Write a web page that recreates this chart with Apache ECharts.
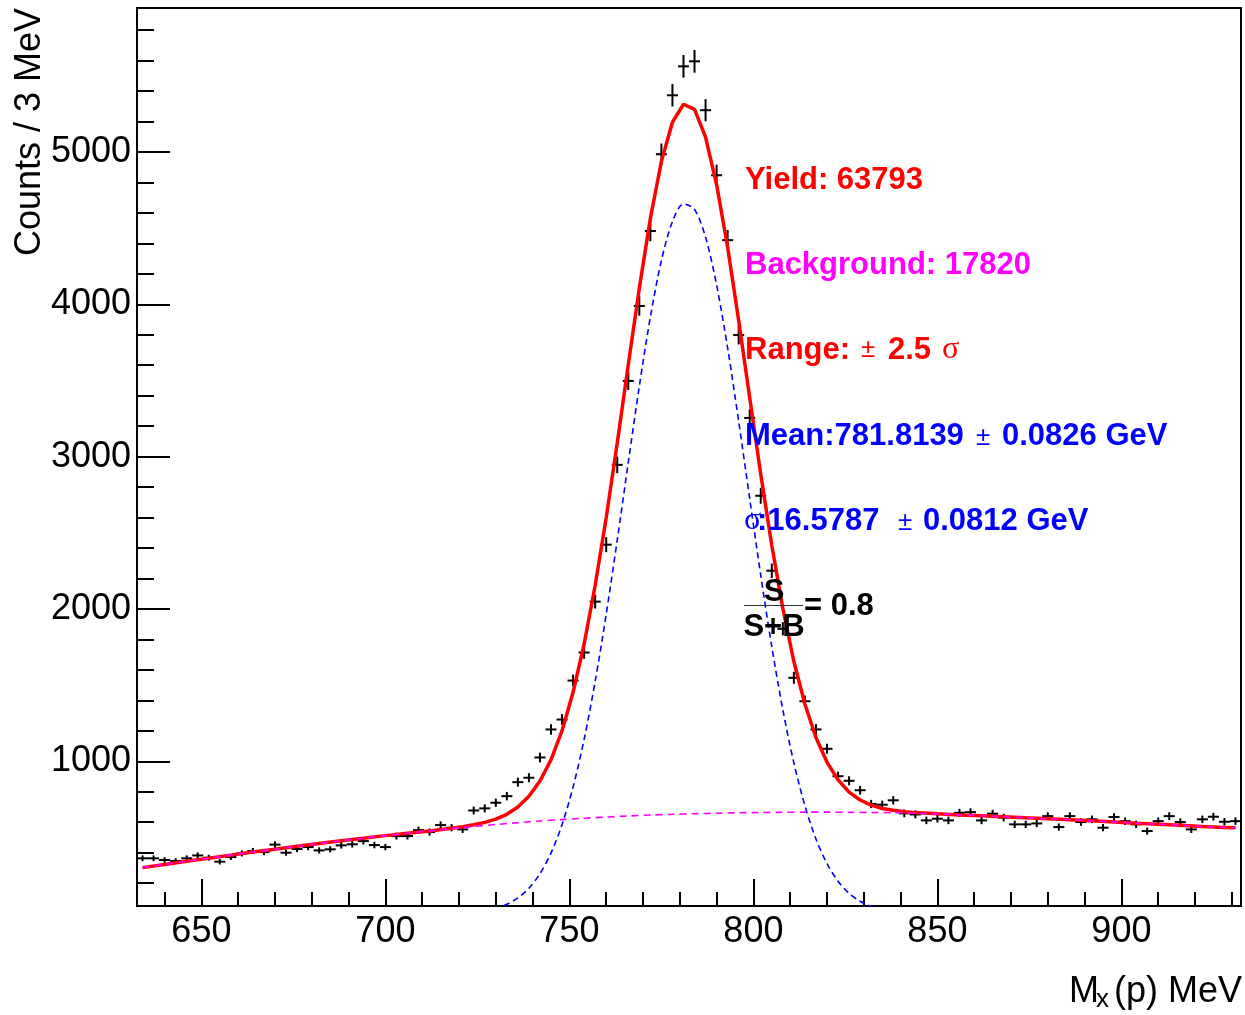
<!DOCTYPE html>
<html><head><meta charset="utf-8">
<script src="https://cdn.jsdelivr.net/npm/echarts@6/dist/echarts.min.js"></script>
<style>html,body{margin:0;padding:0;background:#fff}#c{width:1245px;height:1015px}</style>
</head><body><div id="c"></div>
<script>
// Histogram bin centres (3 MeV bins) and counts
const binCenters = [634,637,640,643,646,649,652,655,658,661,664,667,670,673,676,679,682,685,688,691,
  694,697,700,703,706,709,712,715,718,721,724,727,730,733,736,739,742,745,748,751,
  754,757,760,763,766,769,772,775,778,781,784,787,790,793,796,799,802,805,808,811,
  814,817,820,823,826,829,832,835,838,841,844,847,850,853,856,859,862,865,868,871,
  874,877,880,883,886,889,892,895,898,901,904,907,910,913,916,919,922,925,928,931];
const counts = [363,363,352,345,363,382,367,341,371,395,411,404,453,400,424,437,415,422,448,455,
  476,450,437,509,509,548,535,581,564,553,677,691,728,771,863,892,1025,1209,1274,1530,
  1714,2048,2422,2946,3497,3989,4481,4985,5372,5562,5595,5274,4847,4421,3798,3254,2743,2251,1870,1548,
  1394,1209,1082,902,872,810,720,715,744,658,651,612,623,612,662,666,612,656,630,586,
  586,592,640,568,640,601,619,564,634,607,586,542,607,640,601,553,619,636,603,607];

// Total fit (red)
const fitX = [634,640,646,652,658,664,670,676,682,688,694,700,706,712,718,
  721,724,727,730,733,736,739,742,745,748,751,754,757,760,763,766,769,772,775,778,781,784,787,790,793,796,799,802,805,808,811,814,817,820,823,826,829,832,835,838,841,844,
  850,856,862,868,874,880,886,892,898,904,910,916,922,928,931];
const fitY = [302,323,344,364,384,404,423,442,460,478,495,512,528,543,560,
  570,583,599,620,652,700,770,870,1010,1201,1453,1770,2154,2599,3090,3603,4106,4563,4938,5195,5313,5279,5098,4786,4374,3894,3386,2884,2417,2003,1655,1374,1156,994,879,798,746,712,690,678,669,663,
  655,648,642,636,629,623,616,609,602,594,587,580,572,566,563];

// Signal Gaussian (blue dashed)
const sigX = [727,730,733,736,739,742,745,748,751,754,757,760,763,766,769,772,775,778,781,784,787,790,793,796,799,802,805,808,811,814,817,820,823,826,829,832,835];
const sigY = [20,35,61,103,167,262,397,584,831,1144,1524,1965,2452,2962,3462,3916,4288,4543,4659,4623,4440,4127,3713,3232,2723,2220,1752,1338,989,708,490,328,213,133,81,48,27];

// Background (magenta dashed)
const bkgX = [634,640,646,652,658,664,670,676,682,688,694,700,706,712,718,724,730,736,742,748,754,760,766,772,778,784,790,796,802,808,814,820,826,832,838,844,850,856,862,868,874,880,886,892,898,904,910,916,922,928,931];
const bkgY = [302,323,344,364,384,404,423,442,460,478,495,512,528,543,558,572,585,597,608,617,626,634,641,647,652,656,659,662,664,665,666,666,665,664,663,659,655,648,642,636,629,623,616,609,602,594,587,580,572,566,563];

// Axis ticks
const xMajor = [650,700,750,800,850,900];
const xMinor = [640,650,660,670,680,690,700,710,720,730,740,750,760,770,780,790,800,810,820,830,840,850,860,870,880,890,900,910,920,930];
const yMajor = [1000,2000,3000,4000,5000];
const yMinor = [200,400,600,800,1000,1200,1400,1600,1800,2000,2200,2400,2600,2800,3000,3200,3400,3600,3800,4000,4200,4400,4600,4800,5000,5200,5400,5600,5800];

const FONT = '"Liberation Sans", Arial, Helvetica, sans-serif';
const SERIF = '"Liberation Serif", "DejaVu Serif", serif';

const chart = echarts.init(document.getElementById('c'), null, {renderer: 'canvas'});

const zip = (xs, ys) => xs.map((x, i) => [x, ys[i]]);

function txt(x, y, text, size, color, opts) {
  opts = opts || {};
  return {
    type: 'text', x: x, y: y, z: 100,
    style: {
      text: text,
      fontSize: size,
      fontFamily: opts.family || FONT,
      fontWeight: opts.weight || 'normal',
      fill: color,
      align: opts.align || 'left',
      verticalAlign: 'middle'
    },
    rotation: opts.rotation || 0
  };
}

const plain = v => String(v);

const option = {
  animation: false,
  backgroundColor: '#fff',
  grid: {left: 137, top: 8, right: 4, bottom: 109, show: true, borderColor: '#000', borderWidth: 2, backgroundColor: 'transparent'},
  xAxis: [
    {type: 'value', min: 632.5, max: 932.5, position: 'bottom',
      axisLine: {show: true, onZero: false, lineStyle: {color: '#000', width: 2}},
      axisTick: {show: true, inside: true, length: 27, customValues: xMajor, lineStyle: {color: '#000', width: 2}},
      axisLabel: {show: true, customValues: xMajor, formatter: plain, fontSize: 36, fontFamily: FONT, color: '#000', margin: 8},
      splitLine: {show: false}},
    {type: 'value', min: 632.5, max: 932.5, position: 'bottom',
      axisLine: {show: false},
      axisTick: {show: true, inside: true, length: 14, customValues: xMinor, lineStyle: {color: '#000', width: 2}},
      axisLabel: {show: false}, splitLine: {show: false}}
  ],
  yAxis: [
    {type: 'value', min: 50, max: 5945, position: 'left',
      axisLine: {show: true, onZero: false, lineStyle: {color: '#000', width: 2}},
      axisTick: {show: true, inside: true, length: 33, customValues: yMajor, lineStyle: {color: '#000', width: 2}},
      axisLabel: {show: true, customValues: yMajor, formatter: plain, fontSize: 36, fontFamily: FONT, color: '#000', margin: 6},
      splitLine: {show: false}},
    {type: 'value', min: 50, max: 5945, position: 'left',
      axisLine: {show: false},
      axisTick: {show: true, inside: true, length: 17, customValues: yMinor, lineStyle: {color: '#000', width: 2}},
      axisLabel: {show: false}, splitLine: {show: false}}
  ],
  series: [
    {
      type: 'custom', name: 'data', xAxisIndex: 0, yAxisIndex: 0, z: 2, clip: true,
      data: zip(binCenters, counts),
      renderItem: function (params, api) {
        const x = api.value(0), y = api.value(1), e = Math.sqrt(y);
        const pL = api.coord([x - 1.5, y]), pR = api.coord([x + 1.5, y]);
        const pT = api.coord([x, y + e]), pB = api.coord([x, y - e]);
        return {type: 'group', children: [
          {type: 'line', shape: {x1: pL[0], y1: pL[1], x2: pR[0], y2: pR[1]}, style: {stroke: '#000', lineWidth: 2}},
          {type: 'line', shape: {x1: pT[0], y1: pT[1], x2: pB[0], y2: pB[1]}, style: {stroke: '#000', lineWidth: 2}}
        ]};
      }
    },
    {type: 'line', name: 'fit', data: zip(fitX, fitY), showSymbol: false, symbol: 'none', clip: true, z: 3,
      lineStyle: {color: '#ff0000', width: 3.5}},
    {type: 'line', name: 'signal', data: zip(sigX, sigY), showSymbol: false, symbol: 'none', clip: true, z: 4, smooth: 0.3,
      lineStyle: {color: '#0000ff', width: 1.6, type: [6, 4]}},
    {type: 'line', name: 'background', data: zip(bkgX, bkgY), showSymbol: false, symbol: 'none', clip: true, z: 5, smooth: 0.3,
      lineStyle: {color: '#ff00ff', width: 1.6, type: [7, 5]}}
  ],
  graphic: [
    txt(30, 8, 'Counts / 3 MeV', 36, '#000', {align: 'right', rotation: Math.PI / 2}),
    txt(1069, 992, 'M', 36, '#000'),
    txt(1096, 1000, 'x', 26, '#000'),
    txt(1242, 992, '(p) MeV', 36, '#000', {align: 'right'}),

    txt(745, 180, 'Yield: 63793', 31, '#ff0000', {weight: 'bold'}),
    txt(745, 265, 'Background: 17820', 31, '#ff00ff', {weight: 'bold'}),

    txt(745, 350, 'Range:', 31, '#ff0000', {weight: 'bold'}),
    txt(861, 350, '\u00b1', 26, '#ff0000'),
    txt(888, 350, '2.5', 31, '#ff0000', {weight: 'bold'}),
    txt(942, 350, '\u03c3', 32, '#ff0000', {family: SERIF}),

    txt(745, 436, 'Mean:781.8139', 31, '#0000ff', {weight: 'bold'}),
    txt(976, 438, '\u00b1', 26, '#0000ff'),
    txt(1002, 436, '0.0826 GeV', 31, '#0000ff', {weight: 'bold'}),

    txt(744, 521, '\u03c3', 32, '#0000ff', {family: SERIF}),
    txt(757, 521, ':16.5787', 31, '#0000ff', {weight: 'bold'}),
    txt(898, 523, '\u00b1', 26, '#0000ff'),
    txt(923, 521, '0.0812 GeV', 31, '#0000ff', {weight: 'bold'}),

    txt(774, 592, 'S', 31, '#000', {weight: 'bold', align: 'center'}),
    {type: 'line', z: 100, shape: {x1: 744, y1: 605.5, x2: 803, y2: 605.5}, style: {stroke: '#333', lineWidth: 1.2}},
    txt(774, 627, 'S+B', 31, '#000', {weight: 'bold', align: 'center'}),
    txt(804, 606, '= 0.8', 31, '#000', {weight: 'bold'})
  ]
};
chart.setOption(option);
</script>
</body></html>
